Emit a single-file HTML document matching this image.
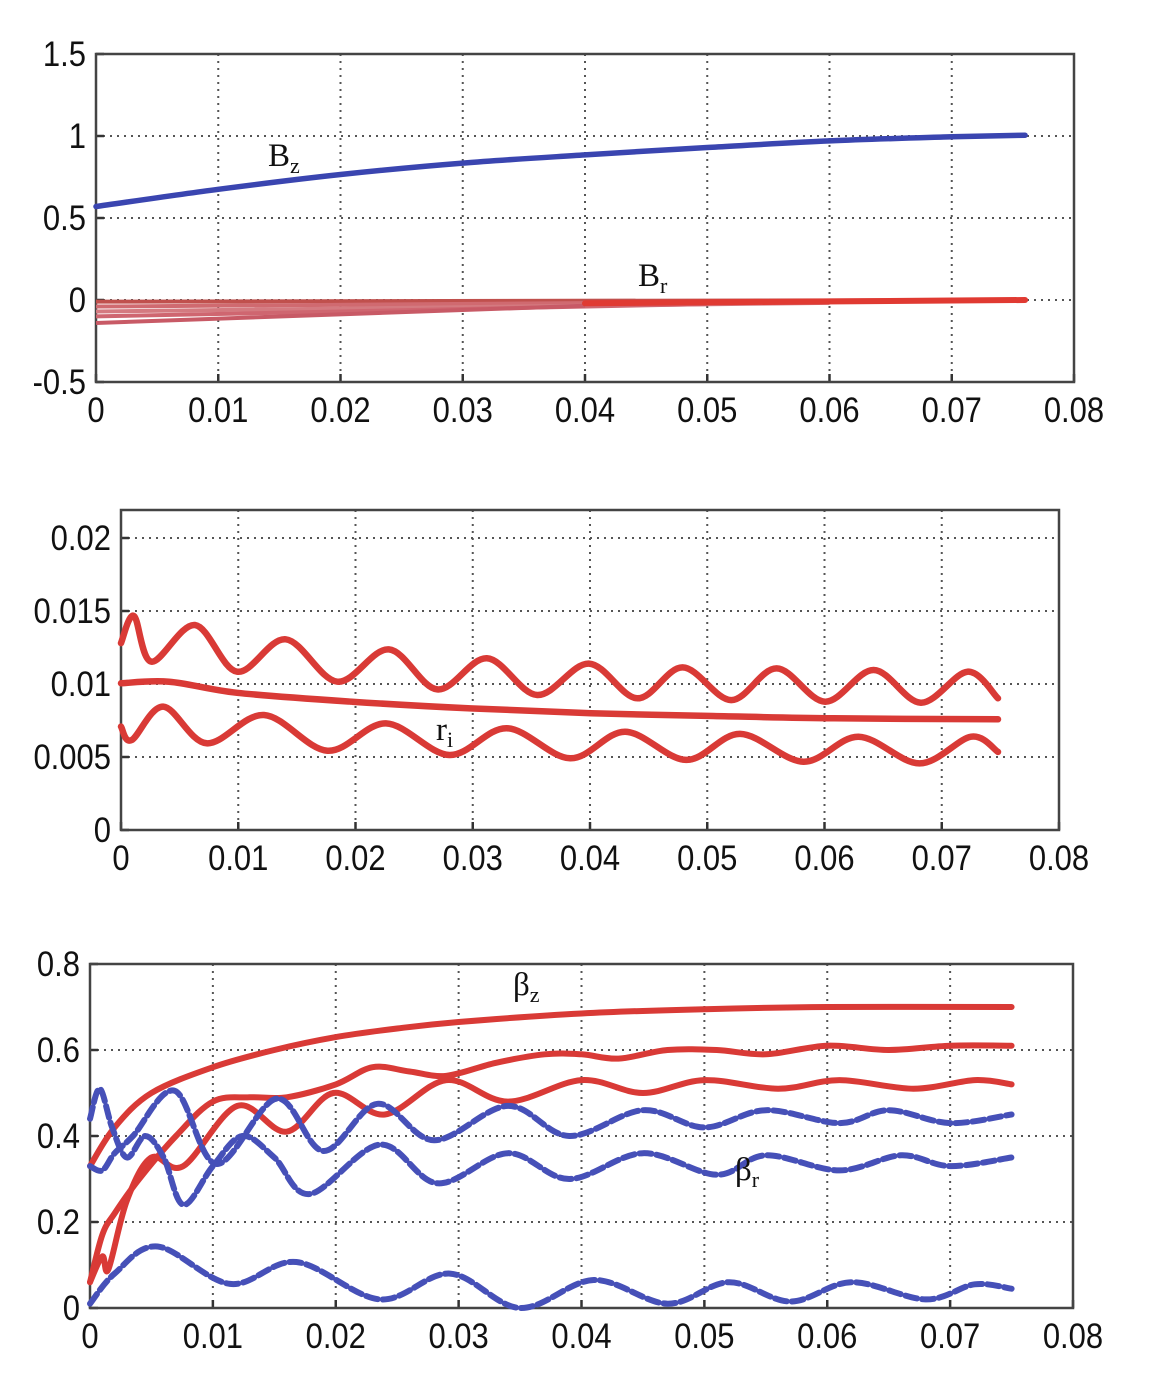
<!DOCTYPE html>
<html><head><meta charset="utf-8"><style>
html,body{margin:0;padding:0;background:#fff;}
svg{display:block;}
text{font-family:"Liberation Sans",Arial,sans-serif;}
.lab{font-family:"Liberation Serif",serif;}
</style></head><body>
<svg id="fig" width="1157" height="1398" viewBox="0 0 1157 1398" xmlns="http://www.w3.org/2000/svg"></svg>
<script>
// ---- Panel 1 data ----
const p1XTicks=[0,0.01,0.02,0.03,0.04,0.05,0.06,0.07,0.08];
const p1YTicks=[-0.5,0,0.5,1,1.5];
const p1YTickLabels=["-0.5","0","0.5","1","1.5"];
const bzX=[0,0.01,0.02,0.03,0.04,0.05,0.06,0.07,0.076];
const bzY=[0.57,0.675,0.765,0.835,0.885,0.93,0.97,0.995,1.005];
const brStartY=[-0.01,-0.04,-0.07,-0.1,-0.14];
const brEndX=[0.076,0.076,0.06,0.05,0.04];
// ---- Panel 2 data ----
const p2XTicks=[0,0.01,0.02,0.03,0.04,0.05,0.06,0.07,0.08];
const p2YTicks=[0,0.005,0.01,0.015,0.02];
const p2YTickLabels=["0","0.005","0.01","0.015","0.02"];
const rOutX=[0,0.0011,0.0026,0.0063,0.0099,0.01405,0.01845,0.02284,0.02698,0.03121,0.0355,0.0399,0.04403,0.0479,0.05204,0.05592,0.06006,0.06419,0.06822,0.0722,0.0748];
const rOutY=[0.0128,0.01466,0.01153,0.01404,0.01084,0.01306,0.01016,0.01237,0.00963,0.01176,0.00925,0.0114,0.00902,0.01114,0.0089,0.01107,0.00879,0.01096,0.00872,0.01084,0.00902];
const riX=[0,0.0041,0.0099,0.0197,0.0298,0.0401,0.0505,0.0608,0.0748];
const riY=[0.01005,0.01016,0.0094,0.00879,0.00833,0.008,0.00781,0.00765,0.00758];
const rInX=[0,0.0009,0.0036,0.0073,0.0122,0.0176,0.0226,0.028,0.0329,0.0383,0.043,0.0482,0.0528,0.0582,0.0629,0.0681,0.0725,0.0748];
const rInY=[0.00708,0.00616,0.00845,0.00594,0.00788,0.00543,0.0073,0.00514,0.00697,0.00491,0.00673,0.0048,0.00658,0.00468,0.00639,0.00456,0.00639,0.00535];
// ---- Panel 3 data ----
const p3XTicks=[0,0.01,0.02,0.03,0.04,0.05,0.06,0.07,0.08];
const p3YTicks=[0,0.2,0.4,0.6,0.8];
const p3YTickLabels=["0","0.2","0.4","0.6","0.8"];
const bz1X=[0,0.002,0.005,0.01,0.015,0.02,0.025,0.03,0.04,0.05,0.06,0.075];
const bz1Y=[0.33,0.42,0.5,0.56,0.6,0.63,0.65,0.665,0.685,0.695,0.7,0.7];
const bz2X=[0,0.001,0.002,0.004,0.007,0.01,0.013,0.016,0.02,0.023,0.026,0.029,0.033,0.037,0.04,0.043,0.047,0.051,0.055,0.06,0.065,0.07,0.075];
const bz2Y=[0.06,0.17,0.22,0.3,0.4,0.48,0.49,0.49,0.52,0.56,0.55,0.54,0.57,0.59,0.59,0.58,0.6,0.6,0.59,0.61,0.6,0.61,0.61];
const bz3X=[0,0.001,0.0015,0.003,0.005,0.0076,0.012,0.016,0.0198,0.024,0.029,0.034,0.04,0.045,0.05,0.056,0.061,0.067,0.072,0.075];
const bz3Y=[0.06,0.12,0.09,0.25,0.35,0.33,0.47,0.41,0.5,0.45,0.53,0.48,0.53,0.5,0.53,0.51,0.53,0.51,0.53,0.52];
const brAX=[0,0.0008,0.0018,0.003,0.0045,0.006,0.0076,0.01,0.0124,0.015,0.0179,0.0236,0.0283,0.034,0.039,0.045,0.051,0.055,0.061,0.066,0.07,0.075];
const brAY=[0.44,0.51,0.42,0.35,0.4,0.35,0.24,0.33,0.4,0.35,0.265,0.38,0.29,0.36,0.3,0.36,0.31,0.355,0.32,0.355,0.33,0.35];
const brBX=[0,0.001,0.002,0.0035,0.0069,0.0103,0.0152,0.019,0.0234,0.028,0.034,0.039,0.045,0.05,0.055,0.061,0.065,0.07,0.075];
const brBY=[0.33,0.32,0.36,0.4,0.505,0.335,0.487,0.365,0.475,0.39,0.47,0.4,0.46,0.42,0.46,0.43,0.46,0.43,0.45];
const brCX=[0,0.002,0.0055,0.0114,0.0168,0.0236,0.0293,0.035,0.041,0.047,0.052,0.057,0.062,0.068,0.072,0.075];
const brCY=[0.01,0.08,0.143,0.056,0.107,0.02,0.08,0.0,0.065,0.01,0.06,0.015,0.06,0.02,0.055,0.045];

const NS="http://www.w3.org/2000/svg";
const svg=document.getElementById('fig');
function mk(tag,attrs,parent){const e=document.createElementNS(NS,tag);for(const k in attrs)e.setAttribute(k,attrs[k]);(parent||svg).appendChild(e);return e;}
function smooth(xs,ys,sx,sy){
  const p=xs.map((x,i)=>[sx(x),sy(ys[i])]);
  let d="M"+p[0][0].toFixed(1)+","+p[0][1].toFixed(1);
  for(let i=0;i<p.length-1;i++){
    const p0=p[Math.max(0,i-1)],p1=p[i],p2=p[i+1],p3=p[Math.min(p.length-1,i+2)];
    const c1x=p1[0]+(p2[0]-p0[0])/6,c1y=p1[1]+(p2[1]-p0[1])/6;
    const c2x=p2[0]-(p3[0]-p1[0])/6,c2y=p2[1]-(p3[1]-p1[1])/6;
    d+=" C"+c1x.toFixed(1)+","+c1y.toFixed(1)+" "+c2x.toFixed(1)+","+c2y.toFixed(1)+" "+p2[0].toFixed(1)+","+p2[1].toFixed(1);
  }
  return d;
}
function axes(cfg){
  const g=mk('g',{});
  
  
  const sx=v=>cfg.x0+(v-cfg.xmin)/(cfg.xmax-cfg.xmin)*(cfg.x1-cfg.x0);
  const sy=v=>cfg.y0-(v-cfg.ymin)/(cfg.ymax-cfg.ymin)*(cfg.y0-cfg.y1);
  const L=cfg.x0,R=cfg.right,T=cfg.top,B=cfg.y0;
  cfg.xticks.forEach(t=>{const x=sx(t);
    if(x>L+2&&x<R-2){const gl=mk('line',{x1:x,x2:x,y1:T,y2:B,stroke:'#555','stroke-width':2,'stroke-dasharray':'2,5'},g);
      }
    const tk=mk('line',{x1:x,x2:x,y1:B,y2:B-8,stroke:'#333','stroke-width':2.5},g);
    
    const tl=mk('text',{x:x,y:B+40,'font-size':31,'text-anchor':'middle',fill:'#111',transform:`translate(0,${B+40}) scale(1,1.15) translate(0,${-(B+40)})`},g);tl.textContent=String(t);
    
  });
  cfg.yticks.forEach((t,i)=>{const y=sy(t);
    if(y>T+2&&y<B-2){const gl=mk('line',{x1:L,x2:R,y1:y,y2:y,stroke:'#555','stroke-width':2,'stroke-dasharray':'2,5'},g);
      }
    const tk=mk('line',{x1:L,x2:L+8,y1:y,y2:y,stroke:'#333','stroke-width':2.5},g);
    
    const tl=mk('text',{x:L-10,y:y+12,'font-size':31,'text-anchor':'end',fill:'#111',transform:`translate(0,${y+12}) scale(1,1.15) translate(0,${-(y+12)})`},g);tl.textContent=cfg.ylabels[i];
    
  });
  const box=mk('rect',{x:L,y:T,width:R-L,height:B-T,fill:'none',stroke:'#444','stroke-width':2.5},g);
  
  return {g,sx,sy};
}
function line(ax,xs,ys,color,w,dash,name){
  const p=mk('path',{d:smooth(xs,ys,ax.sx,ax.sy),fill:'none',stroke:color,'stroke-width':w,'stroke-linecap':'round','stroke-linejoin':'round'},ax.g);
  if(dash)p.setAttribute('stroke-dasharray',dash);
  
}
function label(ax,x,y,main,sub,name){
  const t=mk('text',{x:x,y:y,'font-size':33,fill:'#111',class:'lab'},ax.g);
  
  const a=mk('tspan',{},t);a.textContent=main;
  const b=mk('tspan',{dy:7,'font-size':22},t);b.textContent=sub;
}

// Panel 1
const ax1=axes({name:'panel-magnetic-field',x0:96,x1:1074,right:1074,xmin:0,xmax:0.08,y0:382,y1:54,top:54,ymin:-0.5,ymax:1.5,xticks:p1XTicks,yticks:p1YTicks,ylabels:p1YTickLabels});
const brCols=['#c0504d','#d06a70','#d47a80','#cf6670','#c85a66'];
brStartY.forEach((v,i)=>{
  const l=mk('line',{x1:ax1.sx(0),y1:ax1.sy(v),x2:ax1.sx(brEndX[i]),y2:ax1.sy(i<2?0:v*0.25),stroke:brCols[i],'stroke-width':4},ax1.g);
  
});
line(ax1,[0.04,0.076],[-0.02,0],'#e03a32',6,null,'br-main-line');
line(ax1,bzX,bzY,'#3a45b0',5.5,null,'bz-line');
label(ax1,268,166,'B','z','bz-label');
label(ax1,638,286,'B','r','br-label');

// Panel 2
const ax2=axes({name:'panel-radius',x0:121,x1:1059,right:1059,xmin:0,xmax:0.08,y0:830,y1:538,top:510,ymin:0,ymax:0.02,xticks:p2XTicks,yticks:p2YTicks,ylabels:p2YTickLabels});
line(ax2,rOutX,rOutY,'#d93a36',6.5,null,'outer-radius-line');
line(ax2,riX,riY,'#d93a36',6.5,null,'ri-line');
line(ax2,rInX,rInY,'#d93a36',6.5,null,'inner-radius-line');
label(ax2,436,740,'r','i','ri-label');

// Panel 3
const ax3=axes({name:'panel-beta',x0:90,x1:1073,right:1073,xmin:0,xmax:0.08,y0:1308,y1:964,top:964,ymin:0,ymax:0.8,xticks:p3XTicks,yticks:p3YTicks,ylabels:p3YTickLabels});
line(ax3,bz1X,bz1Y,'#d93a36',6,null,'beta-z-line-1');
line(ax3,bz2X,bz2Y,'#d93a36',6,null,'beta-z-line-2');
line(ax3,bz3X,bz3Y,'#d93a36',6,null,'beta-z-line-3');
line(ax3,brAX,brAY,'#4650b8',6,'12,5','beta-r-line-1');
line(ax3,brBX,brBY,'#4650b8',6,'12,5','beta-r-line-2');
line(ax3,brCX,brCY,'#4650b8',6,'12,5','beta-r-line-3');
label(ax3,513,995,'β','z','beta-z-label');
label(ax3,735,1180,'β','r','beta-r-label');
</script>
</body></html>
